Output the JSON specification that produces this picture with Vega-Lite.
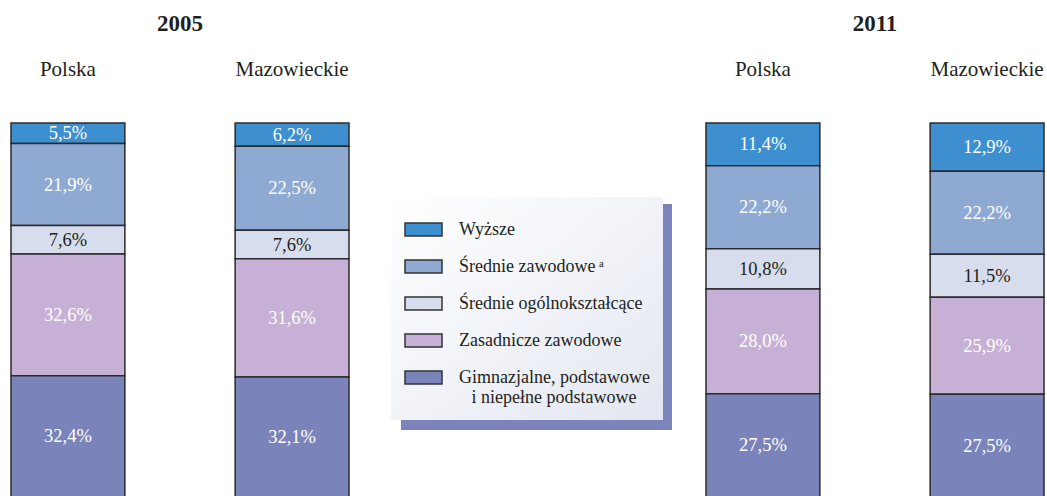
{
  "$schema": "https://vega.github.io/schema/vega-lite/v6.json",
  "padding": {"left": 10, "top": 13, "right": 0, "bottom": 0},
  "background": "white",
  "data": {"values": [
    {"year": "2005", "region": "Polska", "category": "Wyższe", "rank": 1, "value": 5.5, "label": "5,5%"},
    {"year": "2005", "region": "Polska", "category": "Średnie zawodowe", "rank": 2, "value": 21.9, "label": "21,9%"},
    {"year": "2005", "region": "Polska", "category": "Średnie ogólnokształcące", "rank": 3, "value": 7.6, "label": "7,6%"},
    {"year": "2005", "region": "Polska", "category": "Zasadnicze zawodowe", "rank": 4, "value": 32.6, "label": "32,6%"},
    {"year": "2005", "region": "Polska", "category": "Gimnazjalne, podstawowe i niepełne podstawowe", "rank": 5, "value": 32.4, "label": "32,4%"},
    {"year": "2005", "region": "Mazowieckie", "category": "Wyższe", "rank": 1, "value": 6.2, "label": "6,2%"},
    {"year": "2005", "region": "Mazowieckie", "category": "Średnie zawodowe", "rank": 2, "value": 22.5, "label": "22,5%"},
    {"year": "2005", "region": "Mazowieckie", "category": "Średnie ogólnokształcące", "rank": 3, "value": 7.6, "label": "7,6%"},
    {"year": "2005", "region": "Mazowieckie", "category": "Zasadnicze zawodowe", "rank": 4, "value": 31.6, "label": "31,6%"},
    {"year": "2005", "region": "Mazowieckie", "category": "Gimnazjalne, podstawowe i niepełne podstawowe", "rank": 5, "value": 32.1, "label": "32,1%"},
    {"year": "2011", "region": "Polska", "category": "Wyższe", "rank": 1, "value": 11.4, "label": "11,4%"},
    {"year": "2011", "region": "Polska", "category": "Średnie zawodowe", "rank": 2, "value": 22.2, "label": "22,2%"},
    {"year": "2011", "region": "Polska", "category": "Średnie ogólnokształcące", "rank": 3, "value": 10.8, "label": "10,8%"},
    {"year": "2011", "region": "Polska", "category": "Zasadnicze zawodowe", "rank": 4, "value": 28.0, "label": "28,0%"},
    {"year": "2011", "region": "Polska", "category": "Gimnazjalne, podstawowe i niepełne podstawowe", "rank": 5, "value": 27.5, "label": "27,5%"},
    {"year": "2011", "region": "Mazowieckie", "category": "Wyższe", "rank": 1, "value": 12.9, "label": "12,9%"},
    {"year": "2011", "region": "Mazowieckie", "category": "Średnie zawodowe", "rank": 2, "value": 22.2, "label": "22,2%"},
    {"year": "2011", "region": "Mazowieckie", "category": "Średnie ogólnokształcące", "rank": 3, "value": 11.5, "label": "11,5%"},
    {"year": "2011", "region": "Mazowieckie", "category": "Zasadnicze zawodowe", "rank": 4, "value": 25.9, "label": "25,9%"},
    {"year": "2011", "region": "Mazowieckie", "category": "Gimnazjalne, podstawowe i niepełne podstawowe", "rank": 5, "value": 27.5, "label": "27,5%"}
  ]},
  "facet": {
    "column": {
      "field": "year", "type": "nominal", "title": null,
      "header": {"labelFont": "Liberation Serif, Times New Roman, serif", "labelFontSize": 23, "labelFontWeight": "bold", "labelColor": "#231f20", "labelPadding": 22}
    }
  },
  "spacing": 355,
  "spec": {
    "width": 338,
    "height": 374,
    "layer": [
      {
        "mark": {"type": "bar", "stroke": "#2b2b2b", "strokeWidth": 1.5},
        "encoding": {
          "x": {"field": "region", "type": "nominal", "sort": ["Polska", "Mazowieckie"],
                "scale": {"paddingInner": 0.492, "paddingOuter": 0},
                "axis": {"orient": "top", "title": null, "domain": false, "ticks": false, "labelAngle": 0,
                         "labelFont": "Liberation Serif, Times New Roman, serif", "labelFontSize": 21, "labelColor": "#231f20", "labelPadding": 43}},
          "y": {"field": "value", "type": "quantitative", "stack": "zero",
                "scale": {"domain": [0, 100], "reverse": true, "nice": false}, "axis": null},
          "order": {"field": "rank", "type": "quantitative", "sort": "ascending"},
          "fill": {"field": "category", "type": "nominal",
                   "scale": {"domain": ["Wyższe", "Średnie zawodowe", "Średnie ogólnokształcące", "Zasadnicze zawodowe", "Gimnazjalne, podstawowe i niepełne podstawowe"],
                             "range": ["#3d8fd0", "#8eaad3", "#d7ddec", "#c7b0d5", "#7a84ba"]},
                   "legend": {
                     "orient": "none", "legendX": 380, "legendY": 74, "title": null, "zindex": 2,
                     "symbolType": "M-1,-0.35H1V0.35H-1Z", "symbolSize": 1369,
                     "symbolStrokeColor": "#333333", "symbolStrokeWidth": 1.5,
                     "labelFont": "Liberation Serif, Times New Roman, serif", "labelFontSize": 18, "labelColor": "#231f20",
                     "labelOffset": 16, "labelLimit": 400, "rowPadding": 8, "padding": 13,
                     "fillColor": "#f0f2f8",
                     "labelExpr": "datum.label == 'Gimnazjalne, podstawowe i niepełne podstawowe' ? ['Gimnazjalne, podstawowe', '\u200b\u2002\u2009i niepełne podstawowe'] : datum.label == 'Średnie zawodowe' ? 'Średnie zawodowe\u2009ᵃ' : datum.label",
                     "encode": {"legend": {"update": {"fill": {"value": {"gradient": "linear", "x1": 0, "y1": 0, "x2": 1, "y2": 1, "stops": [{"offset": 0, "color": "#ffffff"}, {"offset": 1, "color": "#e3e7f1"}]}}}}}
                   }}
        }
      },
      {
        "mark": {"type": "text", "font": "Liberation Serif, Times New Roman, serif", "fontSize": 18.5, "baseline": "middle", "align": "center"},
        "encoding": {
          "x": {"field": "region", "type": "nominal", "sort": ["Polska", "Mazowieckie"]},
          "y": {"field": "value", "type": "quantitative", "stack": "zero", "bandPosition": 0.5},
          "order": {"field": "rank", "type": "quantitative", "sort": "ascending"},
          "text": {"field": "label"},
          "opacity": {"field": "rank", "type": "ordinal", "scale": {"range": [1, 1]},
                      "legend": {
                        "orient": "none", "legendX": 390, "legendY": 81, "title": null, "zindex": 0,
                        "values": [1],
                        "symbolType": "M-1,-0.63H1V0.63H-1Z", "symbolSize": 60025,
                        "symbolFillColor": "#7b85bb", "symbolStrokeColor": "#7b85bb", "symbolStrokeWidth": 0,
                        "labelFontSize": 1, "labelOpacity": 0, "labelOffset": 0, "labelExpr": "''",
                        "padding": 13,
                        "fillColor": "#7b85bb",
                        "encode": {"symbols": {"update": {"fill": {"value": "#7b85bb"}, "stroke": {"value": "#7b85bb"}, "opacity": {"value": 1}}}}
                      }},
          "color": {"condition": {"test": "datum.category === 'Średnie ogólnokształcące'", "value": "#231f20"}, "value": "#ffffff"}
        }
      }
    ]
  },
  "config": {"view": {"stroke": null}}
}
